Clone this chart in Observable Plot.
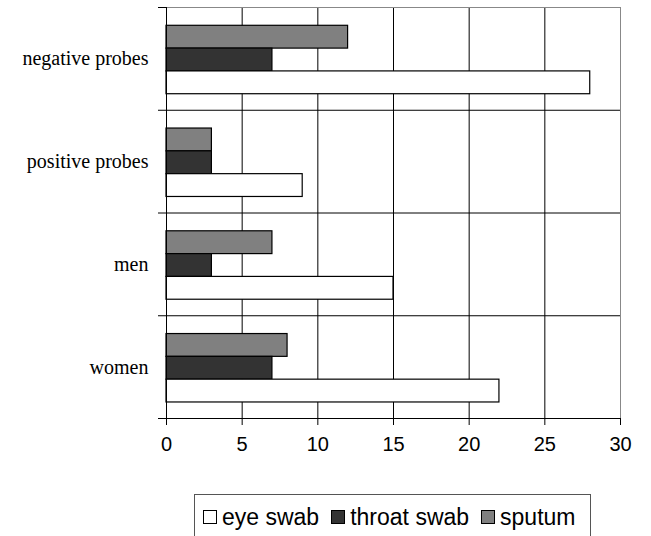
<!DOCTYPE html>
<html><head><meta charset="utf-8">
<script src="https://cdn.jsdelivr.net/npm/d3@7"></script>
<script src="https://cdn.jsdelivr.net/npm/@observablehq/plot@0.6"></script>
<style>
body{margin:0;background:#fff;}
#chart svg{display:block;}
#legend{box-sizing:border-box;margin-left:194px;margin-top:54px;width:397px;height:50px;border:1px solid #555;
  display:flex;align-items:flex-start;padding-top:7px;padding-left:8px;font-family:"Liberation Sans",Arial,sans-serif;font-size:23px;color:#000;}
#legend .item{display:flex;align-items:center;margin-right:12px;line-height:30px;height:30px;}
#legend .sw{box-sizing:border-box;width:14px;height:14px;border:1px solid #000;margin-right:5px;}
</style></head><body><div id="chart"></div><div id="legend"></div><script>
const categories = ["negative probes", "positive probes", "men", "women"];
const groupOrder = ["sputum", "throat swab", "eye swab"];
const legendOrder = ["eye swab", "throat swab", "sputum"];
const sputum = [12, 3, 7, 8];
const throatSwab = [7, 3, 3, 7];
const eyeSwab = [28, 9, 15, 22];
const xTicks = [0, 5, 10, 15, 20, 25, 30];
const colors = {"eye swab": "#ffffff", "throat swab": "#333333", "sputum": "#808080"};

const values = {"sputum": sputum, "throat swab": throatSwab, "eye swab": eyeSwab};
const padTop = 0.178, barH = 0.222;
const rows = [];
categories.forEach((c, i) => groupOrder.forEach((s, j) => rows.push({
  category: c, series: s, value: values[s][i],
  y1: i + padTop + j * barH, y2: i + padTop + (j + 1) * barH
})));
const boundaries = d3.range(categories.length + 1);
const centers = categories.map((c, i) => i + 0.5);

const chart = Plot.plot({
  width: 651, height: 440,
  marginLeft: 166, marginRight: 31, marginTop: 7, marginBottom: 22,
  x: {domain: [0, 30], label: null},
  y: {domain: [0, categories.length], reverse: true, label: null},
  style: {fontFamily: "'Liberation Sans', Arial, sans-serif", fontSize: "20px", color: "#000", background: "#fff", overflow: "visible"},
  marks: [
    Plot.gridX(xTicks.slice(1, -1), {stroke: "#000", strokeOpacity: 1}),
    Plot.gridY(boundaries.slice(1, -1), {stroke: "#000", strokeOpacity: 1}),
    Plot.ruleX([30], {stroke: "#888"}),
    Plot.ruleY([0], {stroke: "#888"}),
    Plot.rect(rows, {x1: 0, x2: "value", y1: "y1", y2: "y2", fill: d => colors[d.series], stroke: "#000", strokeWidth: 1.2}),
    Plot.ruleX([0], {stroke: "#000"}),
    Plot.ruleY([categories.length], {stroke: "#000"}),
    Plot.axisX(xTicks, {tickSize: 7, tickPadding: 11, fontSize: 20, stroke: "#000", label: null}),
    Plot.axisY(boundaries, {tickSize: 8, tickFormat: () => "", stroke: "#000", label: null}),
    Plot.axisY(centers, {tickSize: 0, tickPadding: 18, tickFormat: d => categories[Math.floor(d)], fontFamily: "'Liberation Serif', 'Times New Roman', serif", fontSize: 20, label: null})
  ]
});
document.getElementById("chart").appendChild(chart);

const legend = document.getElementById("legend");
legendOrder.forEach(s => {
  const it = document.createElement("div");
  it.className = "item";
  const sw = document.createElement("div");
  sw.className = "sw";
  sw.style.background = colors[s];
  const t = document.createElement("span");
  t.textContent = s;
  it.appendChild(sw); it.appendChild(t);
  legend.appendChild(it);
});
</script></body></html>
